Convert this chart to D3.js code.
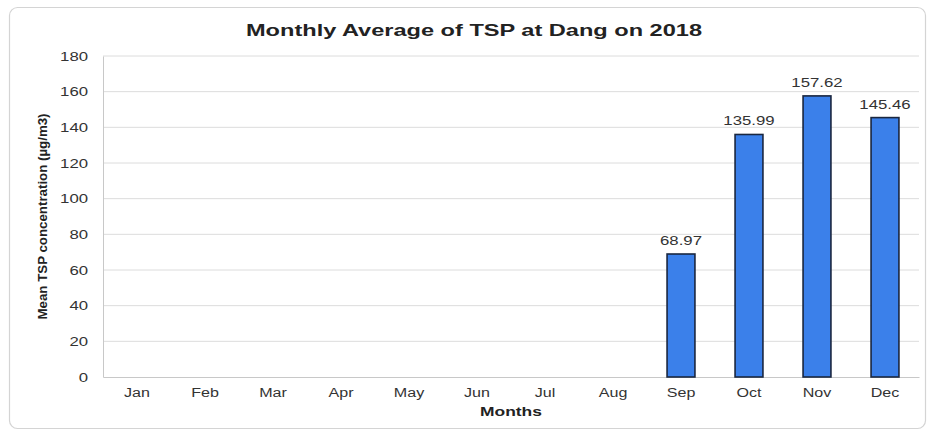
<!DOCTYPE html>
<html><head><meta charset="utf-8">
<script src="https://cdn.jsdelivr.net/npm/d3@7"></script>
<style>body{margin:0;background:#fff;} svg{display:block;font-family:"Liberation Sans",Arial,sans-serif;}</style>
</head><body>
<svg id="c" width="932" height="432"></svg>
<script>
const months = ["Jan","Feb","Mar","Apr","May","Jun","Jul","Aug","Sep","Oct","Nov","Dec"];
const tsp = [null,null,null,null,null,null,null,null,68.97,135.99,157.62,145.46];
const yTicks = [0,20,40,60,80,100,120,140,160,180];
const title = "Monthly Average of TSP at Dang on 2018";
const xTitle = "Months";
const yTitle = "Mean TSP concentration (µg/m3)";

const svg = d3.select("#c");
const m = {l:103, r:13, t:56, b:55};
const W = 932, H = 432;
const iw = W - m.l - m.r, ih = H - m.t - m.b;
const K = 1.34; // horizontal stretch of the reference glyphs

function stretch(sel, k){
  sel.each(function(){
    const w = this.getComputedTextLength();
    d3.select(this).attr("textLength", w*k).attr("lengthAdjust","spacingAndGlyphs");
  });
}

// card
svg.append("rect").attr("x",9.5).attr("y",7.5).attr("width",916).attr("height",421)
  .attr("rx",8).attr("fill","#fff").attr("stroke","#d4d4d4").attr("stroke-width",1.2);

const x = d3.scaleBand().domain(months).range([m.l, m.l+iw]).paddingInner(0.59).paddingOuter(0.295);
const y = d3.scaleLinear().domain([0,180]).range([m.t+ih, m.t]);

// grid
svg.append("g").selectAll("line").data(yTicks.filter(d=>d>0)).join("line")
  .attr("x1",m.l).attr("x2",m.l+iw).attr("y1",d=>y(d)).attr("y2",d=>y(d))
  .attr("stroke","#dcdcdc").attr("stroke-width",1);

// y axis
const ya = svg.append("g").attr("transform",`translate(${m.l},0)`)
  .call(d3.axisLeft(y).tickValues(yTicks).tickSize(0).tickPadding(15));
ya.select(".domain").attr("stroke","#c8c8c8");
ya.selectAll("text").attr("font-size",12.5).attr("fill","#333").call(stretch, K);

// x axis
const xa = svg.append("g").attr("transform",`translate(0,${m.t+ih})`)
  .call(d3.axisBottom(x).tickSize(0).tickPadding(11));
xa.select(".domain").attr("stroke","#c8c8c8");
xa.selectAll("text").attr("font-size",12).attr("fill","#333").call(stretch, K);

// bars
const data = months.map((mo,i)=>({mo, v:tsp[i]})).filter(d=>d.v!==null);
svg.append("g").selectAll("rect").data(data).join("rect")
  .attr("x",d=>x(d.mo)).attr("width",x.bandwidth())
  .attr("y",d=>y(d.v)).attr("height",d=>y(0)-y(d.v))
  .attr("fill","#3b80ea").attr("stroke","#1a2740").attr("stroke-width",1.6);

svg.append("g").selectAll("text").data(data).join("text")
  .attr("x",d=>x(d.mo)+x.bandwidth()/2).attr("y",d=>y(d.v)-9)
  .attr("text-anchor","middle").attr("font-size",12.5).attr("fill","#333")
  .text(d=>d.v.toFixed(2)).call(stretch, K);

// titles
svg.append("text").attr("x",474).attr("y",36).attr("text-anchor","middle")
  .attr("font-size",17).attr("font-weight","bold").attr("fill","#222").text(title)
  .attr("textLength",456).attr("lengthAdjust","spacingAndGlyphs");
svg.append("text").attr("x",m.l+iw/2).attr("y",416).attr("text-anchor","middle")
  .attr("font-size",13).attr("font-weight","bold").attr("fill","#222").text(xTitle).call(stretch, K);
svg.append("text").attr("transform",`translate(47,${m.t+ih/2}) rotate(-90)`)
  .attr("text-anchor","middle").attr("font-size",12.5).attr("font-weight","bold")
  .attr("fill","#222").attr("textLength",206).attr("lengthAdjust","spacingAndGlyphs").text(yTitle);
</script>
</body></html>
